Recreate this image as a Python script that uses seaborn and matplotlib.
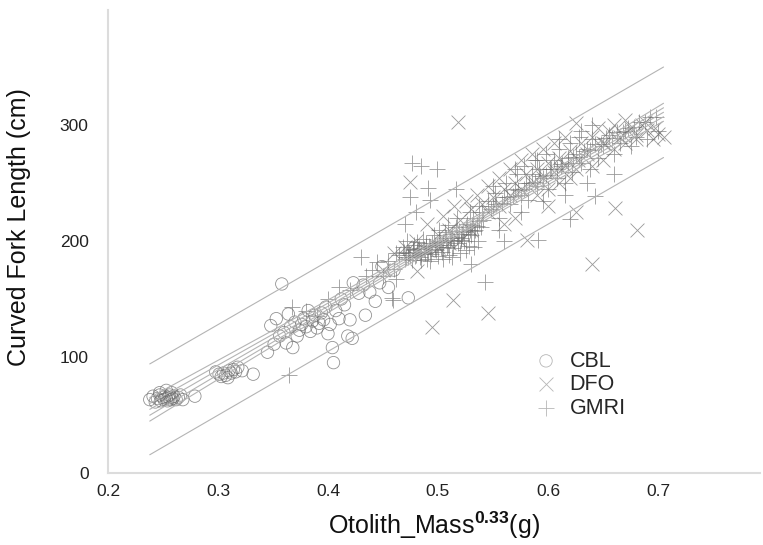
import numpy as np
import pandas as pd
import matplotlib
matplotlib.use("Agg")
import matplotlib.pyplot as plt
import seaborn as sns

# ---------------- data ----------------
cbl_x = [0.238, 0.241, 0.243, 0.245, 0.247, 0.248, 0.250, 0.251, 0.252, 0.253, 0.254, 0.255, 0.256,
         0.257, 0.258, 0.259, 0.260, 0.262, 0.264, 0.266, 0.268, 0.253, 0.258, 0.247, 0.279,
         0.298, 0.301, 0.303, 0.305, 0.307, 0.309, 0.310, 0.312, 0.314, 0.316, 0.318, 0.322, 0.332,
         0.345, 0.348, 0.351, 0.353, 0.356, 0.358, 0.360, 0.362, 0.364, 0.366, 0.368, 0.370, 0.372,
         0.374, 0.376, 0.378, 0.380, 0.382, 0.384, 0.386, 0.388, 0.390, 0.392, 0.394, 0.396, 0.398,
         0.400, 0.402, 0.404, 0.405, 0.407, 0.410, 0.412, 0.415, 0.418, 0.420, 0.422, 0.423, 0.428,
         0.432, 0.434, 0.438, 0.443, 0.447, 0.449, 0.455, 0.473, 0.460]
cbl_y = [63, 66, 61, 64, 67, 62, 65, 63, 66, 64, 62, 65, 67,
         63, 65, 64, 66, 63, 65, 67, 63, 71, 69, 69, 66,
         87, 85, 83, 86, 84, 82, 88, 86, 89, 87, 91, 88, 85,
         104, 127, 111, 133, 118, 163, 121, 112, 137, 126, 108, 130, 118,
         123, 128, 133, 126, 140, 122, 131, 136, 125, 129, 138, 132, 143,
         120, 128, 108, 95, 140, 133, 150, 145, 118, 132, 116, 164, 155,
         162, 136, 156, 148, 164, 178, 160, 151, 175]

dfo_x = [0.518, 0.495, 0.545, 0.514, 0.640, 0.681, 0.661, 0.625, 0.481, 0.475, 0.581,
         0.450, 0.460, 0.470, 0.480, 0.490, 0.500, 0.505, 0.510, 0.515, 0.520, 0.525, 0.530,
         0.535, 0.540, 0.545, 0.550, 0.555, 0.560, 0.565, 0.570, 0.575, 0.580, 0.585, 0.590,
         0.595, 0.600, 0.605, 0.610, 0.615, 0.620, 0.625, 0.630, 0.635, 0.640, 0.645, 0.650,
         0.655, 0.660, 0.665, 0.670, 0.675, 0.680, 0.685, 0.690, 0.695, 0.700, 0.705,
         0.545, 0.555, 0.565, 0.575, 0.585, 0.595, 0.605, 0.615, 0.625, 0.590, 0.600, 0.610,
         0.530, 0.520, 0.510, 0.490, 0.500, 0.640, 0.650, 0.660, 0.670, 0.680, 0.620, 0.600,
         0.570, 0.560, 0.652, 0.668, 0.688, 0.697, 0.612, 0.627]
dfo_y = [303, 126, 138, 149, 180, 210, 229, 225, 174, 251, 201,
         175, 190, 195, 200, 215, 205, 222, 210, 230, 218, 235, 228,
         240, 232, 248, 238, 255, 245, 262, 250, 270, 258, 275, 262,
         280, 268, 285, 272, 290, 278, 302, 285, 275, 290, 298, 285,
         295, 300, 290, 305, 298, 292, 300, 296, 288, 293, 290,
         225, 230, 240, 245, 250, 255, 260, 265, 262, 240, 245, 250,
         210, 200, 198, 192, 195, 265, 270, 280, 285, 288, 255, 230,
         220, 215, 284, 292, 303, 298, 262, 270]

gmri_x = [0.465, 0.468, 0.470, 0.472, 0.474, 0.476, 0.478, 0.480, 0.482, 0.484, 0.486, 0.488,
          0.490, 0.492, 0.494, 0.496, 0.498, 0.500, 0.502, 0.504, 0.506, 0.508, 0.510, 0.512,
          0.514, 0.516, 0.518, 0.520, 0.522, 0.524, 0.526, 0.528, 0.530, 0.532, 0.534, 0.536,
          0.469, 0.473, 0.477, 0.481, 0.485, 0.489, 0.493, 0.497, 0.501, 0.505, 0.509, 0.513,
          0.517, 0.521, 0.525, 0.529, 0.533, 0.537,
          0.471, 0.473, 0.475, 0.477, 0.479, 0.481, 0.483, 0.485, 0.487, 0.489, 0.491, 0.493,
          0.495, 0.497, 0.499, 0.501, 0.503, 0.505, 0.507, 0.509, 0.511, 0.513, 0.515, 0.517,
          0.519, 0.521, 0.523, 0.525, 0.527, 0.529, 0.531, 0.533, 0.535, 0.537, 0.539, 0.541,
          0.548, 0.553, 0.558, 0.563, 0.568, 0.573, 0.578, 0.583, 0.588, 0.593, 0.598, 0.603,
          0.608, 0.613, 0.618, 0.623, 0.628, 0.633, 0.638, 0.643, 0.648, 0.653, 0.658, 0.663,
          0.668, 0.673, 0.678, 0.683, 0.688, 0.693, 0.698,
          0.450, 0.455, 0.460, 0.462, 0.440, 0.430, 0.458, 0.462, 0.459, 0.367, 0.365, 0.380,
          0.390, 0.400, 0.410, 0.420, 0.435, 0.445,
          0.476, 0.485, 0.499, 0.491, 0.475, 0.493, 0.516, 0.480, 0.470,
          0.543, 0.591, 0.620, 0.643, 0.560, 0.530,
          0.540, 0.545, 0.550, 0.552, 0.555, 0.560, 0.562, 0.565, 0.570, 0.572, 0.575, 0.578,
          0.580, 0.582, 0.585, 0.588, 0.590, 0.592, 0.595, 0.598, 0.600, 0.602, 0.605, 0.608,
          0.610, 0.612, 0.615, 0.618, 0.620, 0.622, 0.625, 0.628, 0.630, 0.635, 0.638, 0.640,
          0.645, 0.650, 0.655, 0.660, 0.665, 0.670, 0.675, 0.680, 0.690, 0.700,
          0.550, 0.570, 0.590, 0.610, 0.630, 0.640, 0.555, 0.575, 0.595, 0.615, 0.635, 0.660]
gmri_y = [188, 195, 185, 200, 190, 184, 197, 188, 193, 186, 202, 190,
          185, 196, 189, 205, 192, 187, 199, 191, 208, 195, 188, 203,
          194, 212, 198, 190, 206, 200, 215, 196, 205, 220, 210, 200,
          191, 186, 193, 199, 184, 198, 183, 197, 210, 185, 214, 186,
          220, 201, 192, 225, 195, 230,
          186, 190, 188, 192, 187, 191, 194, 189, 193, 196, 191, 195,
          198, 193, 197, 200, 195, 199, 203, 197, 201, 206, 200, 204,
          209, 203, 208, 212, 206, 210, 214, 209, 213, 217, 212, 218,
          228, 232, 233, 238, 239, 244, 245, 250, 251, 256, 257, 262,
          262, 267, 268, 273, 273, 278, 279, 284, 284, 289, 289, 294,
          294, 298, 299, 303, 303, 307, 307,
          170, 183, 176, 190, 175, 186, 151, 167, 149, 143, 84, 140,
          135, 150, 160, 158, 170, 182,
          268, 265, 262, 246, 238, 236, 245, 225, 215,
          165, 201, 219, 239, 200, 180,
          225, 235, 230, 242, 220, 238, 250, 232, 245, 258, 240, 265,
          250, 236, 258, 270, 248, 262, 255, 275, 245, 262, 270, 255,
          280, 265, 250, 272, 285, 260, 275, 290, 268, 280, 262, 288,
          272, 282, 292, 275, 285, 295, 282, 290, 288, 295,
          248, 262, 270, 288, 295, 300, 210, 225, 235, 240, 250, 258]

groups = ["CBL", "DFO", "GMRI"]

df = pd.concat([
    pd.DataFrame({"mass": cbl_x, "length": cbl_y, "source": "CBL"}),
    pd.DataFrame({"mass": dfo_x, "length": dfo_y, "source": "DFO"}),
    pd.DataFrame({"mass": gmri_x, "length": gmri_y, "source": "GMRI"}),
], ignore_index=True)

# ---------------- style ----------------
sns.set_theme(style="white")
plt.rcParams["font.family"] = ["Liberation Sans", "DejaVu Sans"]
plt.rcParams["mathtext.fontset"] = "custom"
plt.rcParams["mathtext.rm"] = "Liberation Sans"
plt.rcParams["mathtext.bf"] = "Liberation Sans:bold"

fig = plt.figure(figsize=(7.63, 5.45), dpi=100)
ax = fig.add_axes([0.1415, 0.133, 0.855, 0.849])

pt_col = "#6e6e6e"
line_col = "#b4b4b4"

sub = df[df.source == "CBL"]
sns.scatterplot(data=sub, x="mass", y="length", marker="o", s=80,
                facecolor="none", edgecolor=pt_col, linewidth=0.6, alpha=0.75,
                ax=ax, label="CBL")
sub = df[df.source == "DFO"]
sns.scatterplot(data=sub, x="mass", y="length", marker="x", s=100,
                color=pt_col, linewidth=0.6, alpha=0.7, ax=ax, label="DFO")
sub = df[df.source == "GMRI"]
sns.scatterplot(data=sub, x="mass", y="length", marker="+", s=120,
                color=pt_col, linewidth=0.6, alpha=0.7, ax=ax, label="GMRI")

# regression line with confidence and prediction bands (computed from the data)
x = df["mass"].to_numpy(float)
y = df["length"].to_numpy(float)
n = len(x)
b1, b0 = np.polyfit(x, y, 1)
resid = y - (b0 + b1 * x)
s = np.sqrt(np.sum(resid ** 2) / (n - 2))
xm = x.mean()
sxx = np.sum((x - xm) ** 2)
xx = np.linspace(x.min(), x.max(), 50)
yy = b0 + b1 * xx
t = 1.97
se_mean = s * np.sqrt(1.0 / n + (xx - xm) ** 2 / sxx)
se_pred = s * np.sqrt(1.0 + 1.0 / n + (xx - xm) ** 2 / sxx)
kw = dict(color=line_col, lw=0.8, zorder=1)
ax.plot(xx, yy, **kw)
for k in (1.0, 2.0):
    ax.plot(xx, yy + k * t * se_mean, **kw)
    ax.plot(xx, yy - k * t * se_mean, **kw)
ax.plot(xx, yy + t * se_pred, **kw)
ax.plot(xx, yy - t * se_pred, **kw)

# ---------------- axes ----------------
ax.set_xlim(0.2, 0.793)
ax.set_ylim(0, 400)
ax.set_xticks([0.2, 0.3, 0.4, 0.5, 0.6, 0.7])
ax.set_xticklabels(["0.2", "0.3", "0.4", "0.5", "0.6", "0.7"])
ax.set_yticks([0, 100, 200, 300])
for side in ("top", "right"):
    ax.spines[side].set_visible(False)
for side in ("left", "bottom"):
    ax.spines[side].set_color("#dcdcdc")
    ax.spines[side].set_linewidth(1.5)
ax.tick_params(axis="both", direction="in", length=8, width=1.2, color="#dcdcdc",
               labelsize=12.5, labelcolor="#222222")
ax.tick_params(axis="y", pad=14)
ax.tick_params(axis="x", pad=8)

ax.set_xlabel(r"Otolith_Mass$^{\mathbf{0.33}}$(g)", fontsize=18, color="#111111", labelpad=8)
ax.set_ylabel("Curved Fork Length (cm)", fontsize=18, color="#111111")
ax.yaxis.set_label_coords(-0.118, 0.53)

leg = ax.legend(loc="center left", bbox_to_anchor=(0.655, 0.19), frameon=False,
                fontsize=15.5, handlelength=1.0, handletextpad=0.6, labelspacing=0.12,
                borderpad=0, borderaxespad=0)
for h in leg.legend_handles:
    h.set_alpha(0.5)

fig.savefig("out.png", dpi=100)
